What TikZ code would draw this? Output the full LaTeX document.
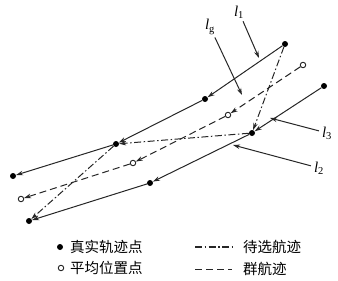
\documentclass[tikz,border=0pt]{standalone}
\usepackage{fontspec}
\setmainfont{Liberation Serif}
\newfontfamily\cjk{Noto Sans CJK SC}
\usetikzlibrary{arrows.meta}

\begin{document}
\begin{tikzpicture}[
    x=1pt, y=-1pt, >={Stealth[length=7pt,width=4.5pt]},
    realpt/.style={circle, fill=black, inner sep=0pt, minimum size=6pt},
    meanpt/.style={circle, draw=black!85, fill=white, line width=0.9pt, inner sep=0pt, minimum size=5.5pt},
    track/.style={->, line width=1pt, draw=black!85},
    candidate/.style={track, dash pattern=on 7pt off 2.5pt on 1.5pt off 2.5pt},
    group/.style={track, dash pattern=on 7pt off 4pt},
    pointer/.style={->, line width=1pt, draw=black!85, shorten <=2pt},
    tag/.style={inner sep=1pt, font=\fontsize{15}{15}\selectfont},
    legend/.style={anchor=west, inner sep=0pt, font=\cjk\fontsize{14.5}{14.5}\selectfont}
  ]
  \useasboundingbox (0,0) rectangle (338,281);

  % true track l1
  \node[realpt] (a1) at (285,44) {};
  \node[realpt] (a2) at (205,99) {};
  \node[realpt] (a3) at (116,144) {};
  \node[realpt] (a4) at (13,176) {};
  % true track l2
  \node[realpt] (b1) at (324,86) {};
  \node[realpt] (b2) at (252,133) {};
  \node[realpt] (b3) at (150,183) {};
  \node[realpt] (b4) at (29,221) {};
  % group track (mean positions)
  \node[meanpt] (g1) at (303,65) {};
  \node[meanpt] (g2) at (228,115) {};
  \node[meanpt] (g3) at (133,163) {};
  \node[meanpt] (g4) at (21,199) {};

  \draw[track] (a1) -- (a2);
  \draw[track] (a2) -- (a3);
  \draw[track] (a3) -- (a4);
  \draw[track] (b1) -- (b2);
  \draw[track] (b2) -- (b3);
  \draw[track] (b3) -- (b4);
  \draw[group] (g1) -- (g2);
  \draw[group] (g2) -- (g3);
  \draw[group] (g3) -- (g4);
  \draw[candidate] (a1) -- (b2);
  \draw[candidate] (b2) -- (a3);
  \draw[candidate] (a3) -- (b4);

  % labels
  \node[tag] (lab1) at (239,12) {\textit{l}\textsubscript{1}};
  \node[tag] (labg) at (210,27) {\textit{l}\textsubscript{g}};
  \node[tag] (lab3) at (327,133) {\textit{l}\textsubscript{3}};
  \node[tag] (lab2) at (319,168) {\textit{l}\textsubscript{2}};
  \coordinate (t1) at (259,58);
  \coordinate (tg) at (242,95);
  \coordinate (t3) at (270,118);
  \coordinate (t2) at (233,145);
  \draw[pointer] (lab1) -- (t1);
  \draw[pointer] (labg) -- (tg);
  \draw[pointer] (lab3) -- (t3);
  \draw[pointer] (lab2) -- (t2);

  % legend
  \node[realpt] (k1) at (60,247) {};
  \node[meanpt] (k2) at (61,268) {};
  \node[legend] (kt1) at (70,247) {真实轨迹点};
  \node[legend] (kt2) at (70,268) {平均位置点};
  \coordinate (c1) at (195,247);
  \coordinate (c2) at (232,247);
  \coordinate (d1) at (195,269);
  \coordinate (d2) at (232,269);
  \draw[line width=1.2pt, draw=black!85, dash pattern=on 7pt off 2.5pt on 1.5pt off 2.5pt] (c1) -- (c2);
  \draw[line width=1pt, draw=black!85, dash pattern=on 7pt off 4pt] (d1) -- (d2);
  \node[legend] (kt3) at (243,247) {待选航迹};
  \node[legend] (kt4) at (243,269) {群航迹};
\end{tikzpicture}
\end{document}
